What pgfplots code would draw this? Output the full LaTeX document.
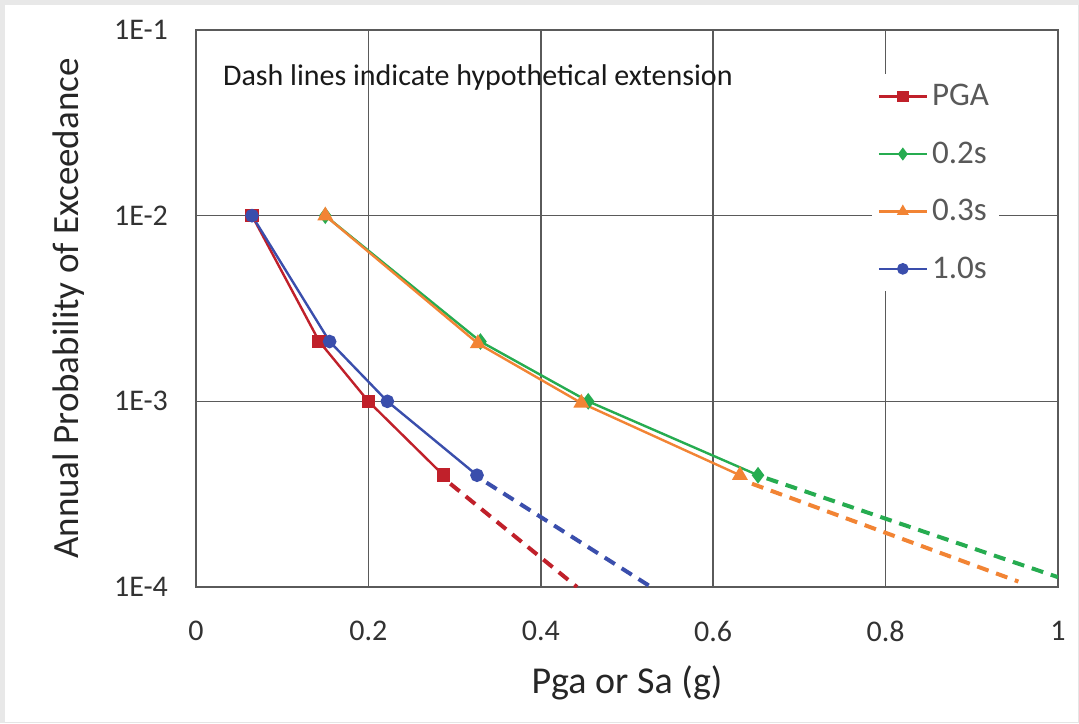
\documentclass[border=0pt]{standalone}
\usepackage{pgfplots}
\pgfplotsset{compat=1.18}
\usepackage{fontspec}
\setmainfont{Carlito}
\definecolor{cred}{RGB}{192,32,42}
\definecolor{cgreen}{RGB}{38,172,80}
\definecolor{corange}{RGB}{242,132,52}
\definecolor{cblue}{RGB}{58,78,172}
\definecolor{gridc}{RGB}{90,90,90}
\definecolor{txt}{RGB}{50,50,50}
\definecolor{legtxt}{RGB}{89,89,89}
\begin{document}
\begin{tikzpicture}
\useasboundingbox (-98pt,-68pt) rectangle (441.5pt,293.5pt);
\fill[white] (-98pt,-68pt) rectangle (441.5pt,293.5pt);
\fill[black!9] (-98pt,-68pt) rectangle (-95.5pt,293.5pt);
\fill[black!9] (-98pt,291pt) rectangle (441.5pt,293.5pt);
\draw[black!10,line width=0.6pt] (-95.5pt,-67.7pt) -- (441.2pt,-67.7pt) -- (441.2pt,291pt);
\begin{axis}[
  at={(0,0)}, anchor=south west,
  scale only axis, width=431pt, height=278.5pt,
  ymode=log, xmin=0, xmax=1, ymin=1e-4, ymax=1e-1,
  xtick={0,0.2,0.4,0.6,0.8,1},
  xticklabels={0,0.2,0.4,0.6,0.8,1},
  ytick={1e-4,1e-3,1e-2,1e-1},
  yticklabels={1E-4,1E-3,1E-2,1E-1},
  minor ytick={}, yminorticks=false,
  major tick length=0pt,
  grid=major,
  major grid style={gridc, line width=0.8pt},
  axis line style={gridc, line width=0.8pt},
  tick label style={font=\fontsize{15}{17}\selectfont, text=txt},
  xticklabel style={yshift=-13.5pt},
  yticklabel style={xshift=-10.5pt},
  xlabel={Pga or Sa (g)},
  ylabel={Annual Probability of Exceedance},
  xlabel style={font=\fontsize{19}{22}\selectfont, text=black!85, yshift=-5pt},
  ylabel style={font=\fontsize{18.5}{22}\selectfont, text=black!85, yshift=8pt},
  legend style={at={(0.932,0.921)}, anchor=north east, draw=none, fill=white,
    font=\fontsize{16.5}{19}\selectfont, text=legtxt, row sep=12.5pt,
    inner sep=3pt},
  legend cell align=left,
  legend image code/.code={
    \draw[#1] (0pt,0pt) -- (24pt,0pt);
    \draw[#1, only marks, mark size=2.3pt] plot coordinates {(12pt,0pt)};
  },
]
\addplot[cred, line width=1.2pt, mark=square*, mark size=2.8pt] coordinates {
 (0.065,1e-2) (0.143,2.1e-3) (0.200,1e-3) (0.287,4e-4)};
\addlegendentry{PGA}
\addplot[cgreen, line width=1.2pt, mark=diamond*, mark size=3.2pt] coordinates {
 (0.150,1e-2) (0.330,2.1e-3) (0.455,1e-3) (0.652,4e-4)};
\addlegendentry{0.2s}
\addplot[corange, line width=1.2pt, mark=triangle*, mark size=3.4pt] coordinates {
 (0.150,1e-2) (0.327,2.05e-3) (0.447,9.8e-4) (0.631,4e-4)};
\addlegendentry{0.3s}
\addplot[cblue, line width=1.2pt, mark=*, mark size=2.8pt] coordinates {
 (0.065,1e-2) (0.155,2.1e-3) (0.222,1e-3) (0.326,4e-4)};
\addlegendentry{1.0s}
\addplot[cred, line width=2pt, dash pattern=on 6pt off 4pt, forget plot] coordinates {
 (0.295,3.6e-4) (0.442,1.0e-4)};
\addplot[cblue, line width=2pt, dash pattern=on 6pt off 4pt, forget plot] coordinates {
 (0.337,3.65e-4) (0.528,1.0e-4)};
\addplot[cgreen, line width=2pt, dash pattern=on 6pt off 4pt, forget plot] coordinates {
 (0.662,3.85e-4) (1.0,1.13e-4)};
\addplot[corange, line width=2pt, dash pattern=on 6pt off 4pt, forget plot] coordinates {
 (0.645,3.6e-4) (0.954,1.07e-4)};
\node[font=\fontsize{15}{18}\selectfont, text=black!90] at (rel axis cs:0.327,0.914) {Dash lines indicate hypothetical extension};
\end{axis}
\end{tikzpicture}
\end{document}
